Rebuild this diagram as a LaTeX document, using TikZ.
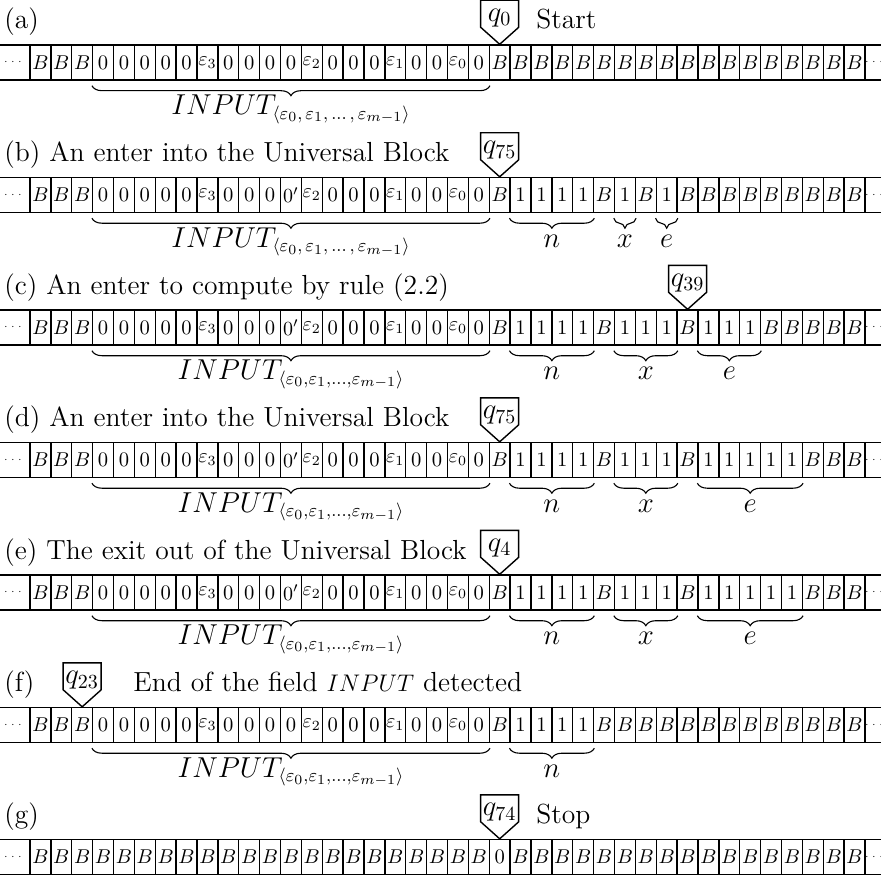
\documentclass[tikz,border=0pt]{standalone}
\usetikzlibrary{decorations.pathreplacing,calc}
\newcommand\tB{$B$}
\newcommand\tE[1]{$\varepsilon_{#1}$}
\newcommand\tP{$0'$}
\newcommand\taperow[3]{%
  \draw[tapeline] (0,#2) -- (881,#2);
  \draw[tapeline] (0,#2+35) -- (881,#2+35);
  \node[tdots] (#1-l) at (13,#2+17.5) {$\cdots$};
  \node[tdots] (#1-r) at (874,#2+17.5) {$\cdots$};
  \foreach \s [count=\i from 0] in {#3} {
    \node[cell] (#1-\i) at ({30+20.875*(\i+0.5)},#2+17.5) {\s};
  }%
}
\newcommand\headat[3]{%
  \draw[headline] (#2.north) -- ++(-19,-17) -- ++(0,-27) -- ++(38,0) -- ++(0,27) -- cycle;
  \path (#2.north) ++(0,-23) node[headlab] (#1) {#3};
}
\newcommand\bracel[5]{%
  \draw[brc] ($(#1-#2.south west)+(0,5)$) -- ($(#1-#3.south east)+(0,5)$);
  \node[blab] (#5) at ($(#1-#2.south west)!0.5!(#1-#3.south east)+(0,34)$) {#4};
}
\begin{document}
\begin{tikzpicture}[x=0.5pt,y=-0.5pt,
  tapeline/.style={line width=0.75pt},
  headline/.style={line width=0.7pt},
  cell/.style={draw, line width=0.7pt, minimum width=10.4375pt, minimum height=17.5pt, inner sep=0pt, font=\fontsize{10.3}{12}\selectfont},
  tdots/.style={inner sep=0pt, font=\tiny},
  headlab/.style={inner sep=0pt, anchor=base, font=\fontsize{14}{16}\selectfont},
  lab/.style={inner sep=0pt, anchor=base west, font=\fontsize{13.8}{16}\selectfont},
  blab/.style={inner sep=0pt, anchor=base, font=\fontsize{13.5}{16}\selectfont},
  brc/.style={decorate, decoration={brace, mirror, amplitude=5pt}, line width=0.55pt}
]
\useasboundingbox (0,0) rectangle (881,877);
% (a)
\node[lab] (la) at (4,29) {(a)};
\taperow{a}{45}{\tB,\tB,\tB,0,0,0,0,0,\tE3,0,0,0,0,\tE2,0,0,0,\tE1,0,0,\tE0,0,\tB,\tB,\tB,\tB,\tB,\tB,\tB,\tB,\tB,\tB,\tB,\tB,\tB,\tB,\tB,\tB,\tB,\tB}
\headat{qa}{a-22}{$q_0$}
\node[lab] (sa) at (536,29) {Start};
\bracel{a}{3}{21}{$INPUT_{\langle\varepsilon_0,\,\varepsilon_1,\,\ldots\,,\,\varepsilon_{m-1}\rangle}$}{ia}
% (b)
\node[lab] (lb) at (4,161.5) {(b) An enter into the Universal Block};
\taperow{b}{177.5}{\tB,\tB,\tB,0,0,0,0,0,\tE3,0,0,0,\tP,\tE2,0,0,0,\tE1,0,0,\tE0,0,\tB,1,1,1,1,\tB,1,\tB,1,\tB,\tB,\tB,\tB,\tB,\tB,\tB,\tB,\tB}
\headat{qb}{b-22}{$q_{75}$}
\bracel{b}{3}{21}{$INPUT_{\langle\varepsilon_0,\,\varepsilon_1,\,\ldots\,,\,\varepsilon_{m-1}\rangle}$}{ib}
\bracel{b}{23}{26}{$n$}{nb}
\bracel{b}{28}{28}{$x$}{xb}
\bracel{b}{30}{30}{$e$}{eb}
% (c)
\node[lab] (lc) at (4,294) {(c) An enter to compute by rule (2.2)};
\taperow{c}{310}{\tB,\tB,\tB,0,0,0,0,0,\tE3,0,0,0,\tP,\tE2,0,0,0,\tE1,0,0,\tE0,0,\tB,1,1,1,1,\tB,1,1,1,\tB,1,1,1,\tB,\tB,\tB,\tB,\tB}
\headat{qc}{c-31}{$q_{39}$}
\bracel{c}{3}{21}{$INPUT_{\langle\varepsilon_0,\varepsilon_1,...,\varepsilon_{m-1}\rangle}$}{ic}
\bracel{c}{23}{26}{$n$}{nc}
\bracel{c}{28}{30}{$x$}{xc}
\bracel{c}{32}{34}{$e$}{ec}
% (d)
\node[lab] (ld) at (4,426.5) {(d) An enter into the Universal Block};
\taperow{d}{442.5}{\tB,\tB,\tB,0,0,0,0,0,\tE3,0,0,0,\tP,\tE2,0,0,0,\tE1,0,0,\tE0,0,\tB,1,1,1,1,\tB,1,1,1,\tB,1,1,1,1,1,\tB,\tB,\tB}
\headat{qd}{d-22}{$q_{75}$}
\bracel{d}{3}{21}{$INPUT_{\langle\varepsilon_0,\varepsilon_1,...,\varepsilon_{m-1}\rangle}$}{id}
\bracel{d}{23}{26}{$n$}{nd}
\bracel{d}{28}{30}{$x$}{xd}
\bracel{d}{32}{36}{$e$}{ed}
% (e)
\node[lab] (le) at (4,559) {(e) The exit out of the Universal Block};
\taperow{e}{575}{\tB,\tB,\tB,0,0,0,0,0,\tE3,0,0,0,\tP,\tE2,0,0,0,\tE1,0,0,\tE0,0,\tB,1,1,1,1,\tB,1,1,1,\tB,1,1,1,1,1,\tB,\tB,\tB}
\headat{qe}{e-22}{$q_4$}
\bracel{e}{3}{21}{$INPUT_{\langle\varepsilon_0,\varepsilon_1,...,\varepsilon_{m-1}\rangle}$}{ie}
\bracel{e}{23}{26}{$n$}{ne}
\bracel{e}{28}{30}{$x$}{xe}
\bracel{e}{32}{36}{$e$}{ee}
% (f)
\node[lab] (lf) at (4,691.5) {(f)};
\taperow{f}{707.5}{\tB,\tB,\tB,0,0,0,0,0,\tE3,0,0,0,0,\tE2,0,0,0,\tE1,0,0,\tE0,0,\tB,1,1,1,1,\tB,\tB,\tB,\tB,\tB,\tB,\tB,\tB,\tB,\tB,\tB,\tB,\tB}
\headat{qf}{f-2}{$q_{23}$}
\node[lab] (tf) at (133,691.5) {End of the field {\fontsize{12.5}{14}\selectfont$INPUT$} detected};
\bracel{f}{3}{21}{$INPUT_{\langle\varepsilon_0,\varepsilon_1,...,\varepsilon_{m-1}\rangle}$}{if}
\bracel{f}{23}{26}{$n$}{nf}
% (g)
\node[lab] (lg) at (4,823.5) {(g)};
\taperow{g}{839.5}{\tB,\tB,\tB,\tB,\tB,\tB,\tB,\tB,\tB,\tB,\tB,\tB,\tB,\tB,\tB,\tB,\tB,\tB,\tB,\tB,\tB,\tB,0,\tB,\tB,\tB,\tB,\tB,\tB,\tB,\tB,\tB,\tB,\tB,\tB,\tB,\tB,\tB,\tB,\tB}
\headat{qg}{g-22}{$q_{74}$}
\node[lab] (sg) at (536,823.5) {Stop};
\end{tikzpicture}
\end{document}
